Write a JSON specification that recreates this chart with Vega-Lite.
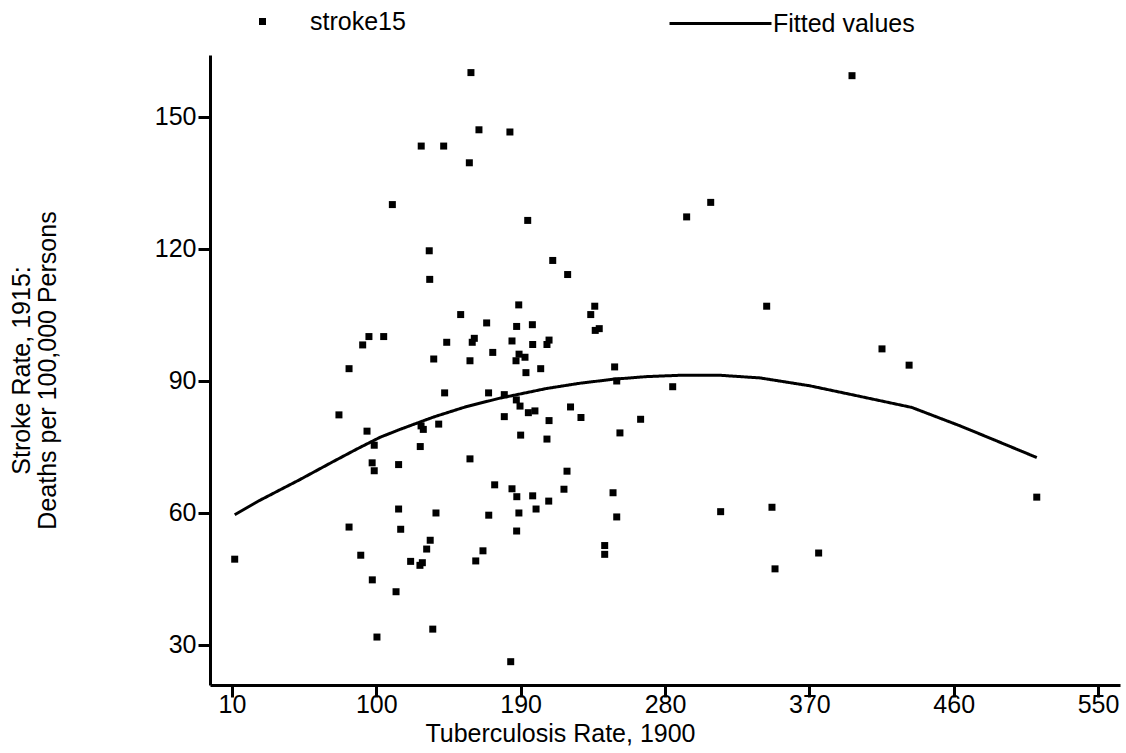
{
  "$schema": "https://vega.github.io/schema/vega-lite/v6.json",
  "width": 910,
  "height": 630,
  "autosize": {"type": "none"},
  "padding": {"left": 210, "top": 55, "right": 6, "bottom": 68},
  "background": "white",
  "config": {
    "view": {"stroke": null},
    "font": "Liberation Sans",
    "axis": {
      "grid": false,
      "domainColor": "black",
      "domainWidth": 3,
      "tickColor": "black",
      "tickWidth": 3,
      "tickSize": 12,
      "labelFont": "Liberation Sans",
      "labelFontSize": 25,
      "labelColor": "black",
      "labelPadding": 2,
      "titleFont": "Liberation Sans",
      "titleFontSize": 25,
      "titleFontWeight": "normal",
      "titleColor": "black"
    },
    "legend": {
      "labelFont": "Liberation Sans",
      "labelFontSize": 25,
      "labelColor": "black",
      "padding": 0,
      "titleFontSize": 0
    }
  },
  "data": {
    "values": [
      {"series": "stroke15", "tb": 159, "stroke": 160},
      {"series": "stroke15", "tb": 164, "stroke": 147},
      {"series": "stroke15", "tb": 128, "stroke": 143.3},
      {"series": "stroke15", "tb": 142, "stroke": 143.3},
      {"series": "stroke15", "tb": 158, "stroke": 139.5},
      {"series": "stroke15", "tb": 110, "stroke": 130},
      {"series": "stroke15", "tb": 133, "stroke": 119.5},
      {"series": "stroke15", "tb": 133.3, "stroke": 113},
      {"series": "stroke15", "tb": 183.3, "stroke": 146.5},
      {"series": "stroke15", "tb": 194.4, "stroke": 126.4},
      {"series": "stroke15", "tb": 210, "stroke": 117.3},
      {"series": "stroke15", "tb": 219.3, "stroke": 114.1},
      {"series": "stroke15", "tb": 308.5, "stroke": 130.5},
      {"series": "stroke15", "tb": 293.5, "stroke": 127.2},
      {"series": "stroke15", "tb": 396.6, "stroke": 159.3},
      {"series": "stroke15", "tb": 152.6, "stroke": 105},
      {"series": "stroke15", "tb": 168.8, "stroke": 103.1},
      {"series": "stroke15", "tb": 95.4, "stroke": 100},
      {"series": "stroke15", "tb": 104.6, "stroke": 100},
      {"series": "stroke15", "tb": 91.5, "stroke": 98.1},
      {"series": "stroke15", "tb": 143.9, "stroke": 98.7},
      {"series": "stroke15", "tb": 161.1, "stroke": 99.6},
      {"series": "stroke15", "tb": 159.8, "stroke": 98.7},
      {"series": "stroke15", "tb": 172.6, "stroke": 96.4},
      {"series": "stroke15", "tb": 135.8, "stroke": 94.9},
      {"series": "stroke15", "tb": 158.4, "stroke": 94.5},
      {"series": "stroke15", "tb": 83, "stroke": 92.7},
      {"series": "stroke15", "tb": 142.6, "stroke": 87.2},
      {"series": "stroke15", "tb": 170, "stroke": 87.2},
      {"series": "stroke15", "tb": 76.7, "stroke": 82.2},
      {"series": "stroke15", "tb": 94.2, "stroke": 78.5},
      {"series": "stroke15", "tb": 98.7, "stroke": 75.3},
      {"series": "stroke15", "tb": 127.9, "stroke": 79.7},
      {"series": "stroke15", "tb": 129.3, "stroke": 78.9},
      {"series": "stroke15", "tb": 138.9, "stroke": 80.1},
      {"series": "stroke15", "tb": 127.4, "stroke": 75},
      {"series": "stroke15", "tb": 97.4, "stroke": 71.3},
      {"series": "stroke15", "tb": 98.7, "stroke": 69.5},
      {"series": "stroke15", "tb": 113.9, "stroke": 70.9},
      {"series": "stroke15", "tb": 158.4, "stroke": 72.2},
      {"series": "stroke15", "tb": 173.8, "stroke": 66.3},
      {"series": "stroke15", "tb": 11.7, "stroke": 49.4},
      {"series": "stroke15", "tb": 83, "stroke": 56.7},
      {"series": "stroke15", "tb": 90.3, "stroke": 50.3},
      {"series": "stroke15", "tb": 97.5, "stroke": 44.7},
      {"series": "stroke15", "tb": 100.4, "stroke": 31.7},
      {"series": "stroke15", "tb": 113.9, "stroke": 60.8},
      {"series": "stroke15", "tb": 115.2, "stroke": 56.2},
      {"series": "stroke15", "tb": 112.3, "stroke": 42},
      {"series": "stroke15", "tb": 137.2, "stroke": 59.9},
      {"series": "stroke15", "tb": 133.6, "stroke": 53.7},
      {"series": "stroke15", "tb": 131.4, "stroke": 51.7},
      {"series": "stroke15", "tb": 121.4, "stroke": 48.9},
      {"series": "stroke15", "tb": 128.7, "stroke": 48.6},
      {"series": "stroke15", "tb": 127.2, "stroke": 48},
      {"series": "stroke15", "tb": 135.2, "stroke": 33.5},
      {"series": "stroke15", "tb": 170.1, "stroke": 59.4},
      {"series": "stroke15", "tb": 166.5, "stroke": 51.3},
      {"series": "stroke15", "tb": 162, "stroke": 49},
      {"series": "stroke15", "tb": 188.8, "stroke": 107.2},
      {"series": "stroke15", "tb": 187.5, "stroke": 102.3},
      {"series": "stroke15", "tb": 197.3, "stroke": 102.7},
      {"series": "stroke15", "tb": 236.2, "stroke": 106.9},
      {"series": "stroke15", "tb": 233.7, "stroke": 105},
      {"series": "stroke15", "tb": 236.5, "stroke": 101.4},
      {"series": "stroke15", "tb": 239, "stroke": 101.8},
      {"series": "stroke15", "tb": 184.6, "stroke": 99},
      {"series": "stroke15", "tb": 197.5, "stroke": 98.2},
      {"series": "stroke15", "tb": 206.4, "stroke": 98.2},
      {"series": "stroke15", "tb": 207.7, "stroke": 99.2},
      {"series": "stroke15", "tb": 189, "stroke": 96},
      {"series": "stroke15", "tb": 192.7, "stroke": 95.3},
      {"series": "stroke15", "tb": 187.1, "stroke": 94.5},
      {"series": "stroke15", "tb": 193.3, "stroke": 91.8},
      {"series": "stroke15", "tb": 202.5, "stroke": 92.7},
      {"series": "stroke15", "tb": 248.6, "stroke": 93.1},
      {"series": "stroke15", "tb": 179.8, "stroke": 86.8},
      {"series": "stroke15", "tb": 187.3, "stroke": 85.6},
      {"series": "stroke15", "tb": 189.6, "stroke": 84.2},
      {"series": "stroke15", "tb": 194.8, "stroke": 82.7},
      {"series": "stroke15", "tb": 198.9, "stroke": 83.1},
      {"series": "stroke15", "tb": 179.8, "stroke": 81.8},
      {"series": "stroke15", "tb": 221.1, "stroke": 84},
      {"series": "stroke15", "tb": 227.6, "stroke": 81.6},
      {"series": "stroke15", "tb": 207.7, "stroke": 80.9},
      {"series": "stroke15", "tb": 249.9, "stroke": 89.9},
      {"series": "stroke15", "tb": 284.8, "stroke": 88.6},
      {"series": "stroke15", "tb": 264.8, "stroke": 81.2},
      {"series": "stroke15", "tb": 190, "stroke": 77.6},
      {"series": "stroke15", "tb": 206.4, "stroke": 76.7},
      {"series": "stroke15", "tb": 251.9, "stroke": 78.1},
      {"series": "stroke15", "tb": 218.9, "stroke": 69.4},
      {"series": "stroke15", "tb": 184.6, "stroke": 65.4},
      {"series": "stroke15", "tb": 217, "stroke": 65.3},
      {"series": "stroke15", "tb": 247.6, "stroke": 64.5},
      {"series": "stroke15", "tb": 187.6, "stroke": 63.6},
      {"series": "stroke15", "tb": 197.5, "stroke": 63.8},
      {"series": "stroke15", "tb": 207.5, "stroke": 62.6},
      {"series": "stroke15", "tb": 188.9, "stroke": 59.9},
      {"series": "stroke15", "tb": 199.6, "stroke": 60.8},
      {"series": "stroke15", "tb": 249.9, "stroke": 59},
      {"series": "stroke15", "tb": 187.5, "stroke": 55.8},
      {"series": "stroke15", "tb": 242.4, "stroke": 52.5},
      {"series": "stroke15", "tb": 242.4, "stroke": 50.5},
      {"series": "stroke15", "tb": 314.7, "stroke": 60.2},
      {"series": "stroke15", "tb": 346.7, "stroke": 61.2},
      {"series": "stroke15", "tb": 348.6, "stroke": 47.2},
      {"series": "stroke15", "tb": 183.8, "stroke": 26.1},
      {"series": "stroke15", "tb": 343.4, "stroke": 106.9},
      {"series": "stroke15", "tb": 415.3, "stroke": 97.2},
      {"series": "stroke15", "tb": 432.2, "stroke": 93.5},
      {"series": "stroke15", "tb": 375.8, "stroke": 50.8},
      {"series": "stroke15", "tb": 511.8, "stroke": 63.5},
      {"series": "Fitted values", "tb": 11.7, "stroke": 59.5},
      {"series": "Fitted values", "tb": 27.5, "stroke": 62.8},
      {"series": "Fitted values", "tb": 52.4, "stroke": 67.5},
      {"series": "Fitted values", "tb": 73.2, "stroke": 71.6},
      {"series": "Fitted values", "tb": 87.7, "stroke": 74.4},
      {"series": "Fitted values", "tb": 102.3, "stroke": 77.1},
      {"series": "Fitted values", "tb": 114.8, "stroke": 78.9},
      {"series": "Fitted values", "tb": 135.6, "stroke": 81.7},
      {"series": "Fitted values", "tb": 156.3, "stroke": 84.1},
      {"series": "Fitted values", "tb": 177.1, "stroke": 86.0},
      {"series": "Fitted values", "tb": 206.2, "stroke": 88.2},
      {"series": "Fitted values", "tb": 227, "stroke": 89.4},
      {"series": "Fitted values", "tb": 247.8, "stroke": 90.3},
      {"series": "Fitted values", "tb": 268.6, "stroke": 90.9},
      {"series": "Fitted values", "tb": 289.4, "stroke": 91.2},
      {"series": "Fitted values", "tb": 314.3, "stroke": 91.2},
      {"series": "Fitted values", "tb": 339.2, "stroke": 90.6},
      {"series": "Fitted values", "tb": 370.4, "stroke": 88.8},
      {"series": "Fitted values", "tb": 401.6, "stroke": 86.4},
      {"series": "Fitted values", "tb": 433.8, "stroke": 83.9},
      {"series": "Fitted values", "tb": 464, "stroke": 79.7},
      {"series": "Fitted values", "tb": 484.7, "stroke": 76.6},
      {"series": "Fitted values", "tb": 511.8, "stroke": 72.5}
    ]
  },
  "encoding": {
    "x": {
      "field": "tb",
      "type": "quantitative",
      "scale": {"domain": [-3.7, 563.7], "nice": false, "zero": false},
      "axis": {
        "values": [10, 100, 190, 280, 370, 460, 550],
        "title": "Tuberculosis Rate, 1900",
        "titleX": 350,
        "titleAlign": "center",
        "labelPadding": -5,
        "titlePadding": 4
      }
    },
    "y": {
      "field": "stroke",
      "type": "quantitative",
      "scale": {"domain": [20.8, 164], "nice": false, "zero": false},
      "axis": {
        "values": [30, 60, 90, 120, 150],
        "title": ["Stroke Rate, 1915:", "Deaths per 100,000 Persons"],
        "titlePadding": 94,
        "titleLineHeight": 26
      }
    }
  },
  "layer": [
    {
      "transform": [{"filter": "datum.series === 'stroke15'"}],
      "mark": {"type": "point", "filled": true, "shape": "square", "size": 49, "color": "black", "opacity": 1},
      "encoding": {
        "shape": {
          "field": "series",
          "type": "nominal",
          "scale": {"domain": ["stroke15"], "range": ["square"]},
          "legend": {
            "orient": "none",
            "legendX": 40,
            "legendY": -46,
            "title": null,
            "symbolSize": 49,
            "symbolFillColor": "black",
            "symbolStrokeColor": "black",
            "symbolStrokeWidth": 0,
            "labelOffset": 35
          }
        }
      }
    },
    {
      "transform": [{"filter": "datum.series === 'Fitted values'"}],
      "mark": {"type": "line", "color": "black", "strokeWidth": 3},
      "encoding": {
        "strokeDash": {
          "field": "series",
          "type": "nominal",
          "scale": {"domain": ["Fitted values"], "range": [[1, 0]]},
          "legend": {
            "orient": "none",
            "legendX": 458,
            "legendY": -84,
            "title": null,
            "symbolType": "stroke",
            "symbolSize": 10400,
            "symbolStrokeColor": "black",
            "symbolStrokeWidth": 3,
            "labelOffset": 0
          }
        }
      }
    }
  ]
}
